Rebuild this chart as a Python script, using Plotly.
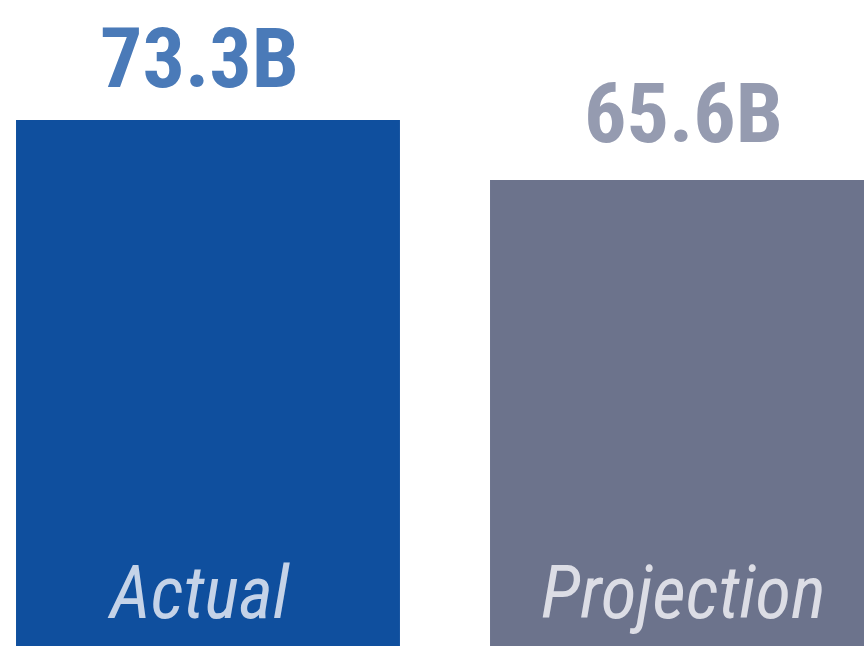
import plotly.graph_objects as go

categories = ["Actual", "Projection"]
values = [73.3, 65.6]
value_labels = ["73.3B", "65.6B"]
bar_colors = ["#0F4F9E", "#6C738C"]
label_colors = ["#4A7AB8", "#959BB0"]
inner_colors = ["#C5D3E8", "#DCDDE5"]
value_label_dx = [-0.018, 0.004]
value_label_dy = [10, 15]
inner_label_dx = [-0.019, 0.002]

fig = go.Figure()
fig.add_trace(go.Bar(
    x=[0, 1], y=values,
    marker=dict(color=bar_colors, line=dict(width=0)),
    width=0.81,
    hoverinfo="skip",
))

for i, cat in enumerate(categories):
    fig.add_annotation(
        x=i + value_label_dx[i], y=values[i], xref="x", yref="y",
        text=value_labels[i], showarrow=False,
        yanchor="bottom", yshift=value_label_dy[i],
        font=dict(family="Roboto Condensed, Roboto", size=84,
                  color=label_colors[i], weight="bold"),
    )
    fig.add_annotation(
        x=i + inner_label_dx[i], y=0, xref="x", yref="paper",
        text=cat, showarrow=False,
        yanchor="bottom", yshift=8,
        font=dict(family="Roboto Condensed, Roboto", size=73, color=inner_colors[i], style="italic"),
    )

fig.update_layout(
    width=864, height=646,
    margin=dict(l=0, r=0, t=0, b=0),
    paper_bgcolor="white", plot_bgcolor="white",
    showlegend=False,
    xaxis=dict(range=[-0.4388, 1.384], visible=False),
    yaxis=dict(range=[5.8, 88.7], visible=False),
)

fig.write_html("out.html")
